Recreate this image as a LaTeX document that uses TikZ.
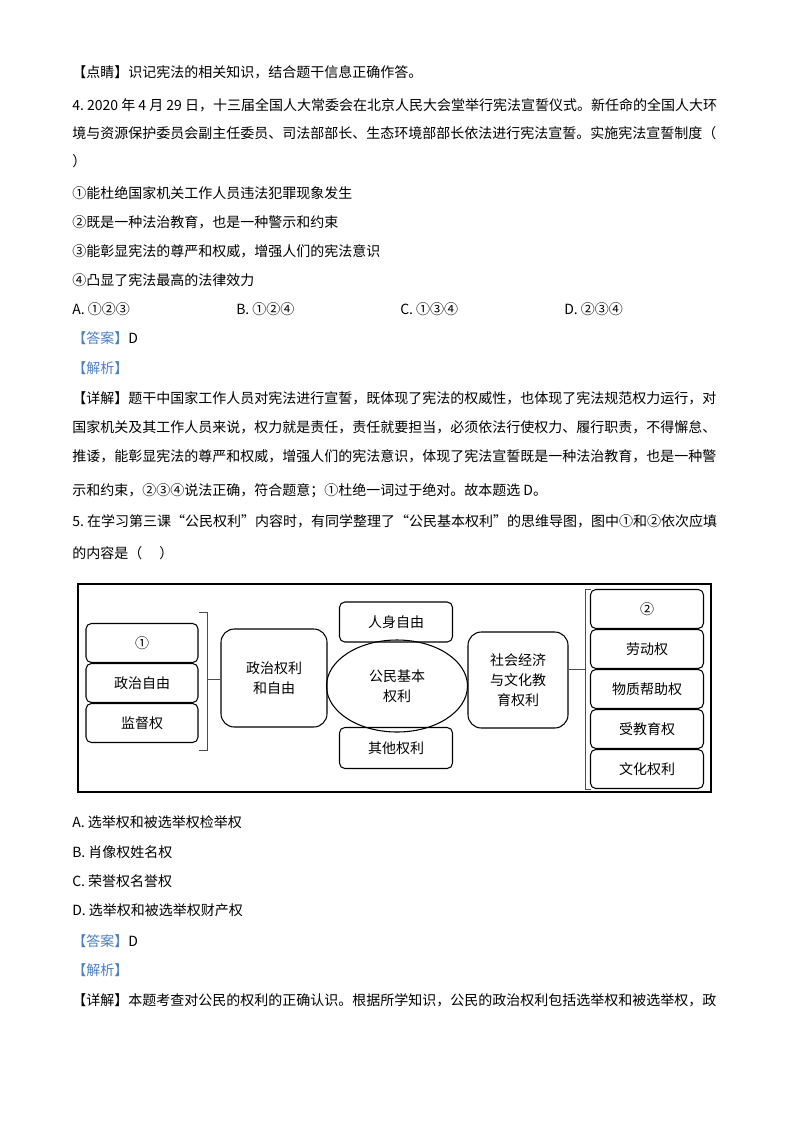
\documentclass[tikz,border=0pt]{standalone}
\usepackage{fontspec}
\usetikzlibrary{shapes.geometric}
\setmainfont{Noto Sans CJK SC}
\definecolor{ansblue}{HTML}{4A7FC1}
\begin{document}
\begin{tikzpicture}[x=0.75pt,y=-0.75pt,
  txt/.style={anchor=west,inner sep=0pt,font=\fontsize{10.5pt}{12pt}\selectfont},
  rbox/.style={draw,line width=0.8pt,rounded corners=4pt,font=\fontsize{10.5pt}{15pt}\selectfont,align=center,inner sep=0pt},
  lnk/.style={line width=0.6pt,draw=black!70}]
\useasboundingbox (0,0) rectangle (800,1132);
\fill[white] (0,0) rectangle (800,1132);
\node[txt] (l1) at (72,72) {【点睛】识记宪法的相关知识，结合题干信息正确作答。};
\node[txt] (l2) at (72,105) {4.\ 2020 年 4 月 29 日，十三届全国人大常委会在北京人民大会堂举行宪法宣誓仪式。新任命的全国人大环};
\node[txt] (l3) at (72,133) {境与资源保护委员会副主任委员、司法部部长、生态环境部部长依法进行宪法宣誓。实施宪法宣誓制度（};
\node[txt] (l4) at (72,161) {）};
\node[txt] (l5) at (72,193) {①能杜绝国家机关工作人员违法犯罪现象发生};
\node[txt] (l6) at (72,222) {②既是一种法治教育，也是一种警示和约束};
\node[txt] (l7) at (72,251) {③能彰显宪法的尊严和权威，增强人们的宪法意识};
\node[txt] (l8) at (72,280) {④凸显了宪法最高的法律效力};
\node[txt] (oA) at (72,309) {A. ①②③};
\node[txt] (oB) at (236,309) {B. ①②④};
\node[txt] (oC) at (400,309) {C. ①③④};
\node[txt] (oD) at (564,309) {D. ②③④};
\node[txt] (a1) at (72,338) {\textcolor{ansblue}{【答案】}D};
\node[txt] (a2) at (72,368) {\textcolor{ansblue}{【解析】}};
\node[txt] (d1) at (72,398) {【详解】题干中国家工作人员对宪法进行宣誓，既体现了宪法的权威性，也体现了宪法规范权力运行，对};
\node[txt] (d2) at (72,427) {国家机关及其工作人员来说，权力就是责任，责任就要担当，必须依法行使权力、履行职责，不得懈怠、};
\node[txt] (d3) at (72,456) {推诿，能彰显宪法的尊严和权威，增强人们的宪法意识，体现了宪法宣誓既是一种法治教育，也是一种警};
\node[txt] (d4) at (72,491) {示和约束，②③④说法正确，符合题意；①杜绝一词过于绝对。故本题选 D。};
\node[txt] (q5a) at (72,521) {5.\ 在学习第三课“公民权利”内容时，有同学整理了“公民基本权利”的思维导图，图中①和②依次应填};
\node[txt] (q5b) at (72,553) {的内容是（\quad\ ）};
% diagram
\draw[line width=0.8pt] (78,584) rectangle (711,792);
\node[rbox,minimum width=112*0.75pt,minimum height=39*0.75pt] (c1) at (142,643) {①};
\node[rbox,minimum width=112*0.75pt,minimum height=39*0.75pt] (c2) at (142,683) {政治自由};
\node[rbox,minimum width=112*0.75pt,minimum height=39*0.75pt] (c3) at (142,723) {监督权};
\draw[lnk] (199,612) -- (207,612) -- (207,750) -- (199,750);
\coordinate (lb) at (207,679);
\node[rbox,rounded corners=10pt,minimum width=106*0.75pt,minimum height=98*0.75pt] (pol) at (274,678) {政治权利\\和自由};
\draw[lnk] (lb) -- (pol.west |- lb);
\node[draw,line width=0.8pt,ellipse,minimum width=141*0.75pt,minimum height=92*0.75pt,inner sep=0pt,align=center,font=\fontsize{10.5pt}{15pt}\selectfont] (core) at (397,686) {公民基本\\权利};
\node[rbox,minimum width=113*0.75pt,minimum height=40*0.75pt] (per) at (396,622) {人身自由};
\node[rbox,minimum width=113*0.75pt,minimum height=41*0.75pt] (oth) at (396,748) {其他权利};
\node[rbox,rounded corners=10pt,minimum width=100*0.75pt,minimum height=96*0.75pt] (soc) at (518,680) {社会经济\\与文化教\\育权利};
\coordinate (rb) at (585,669);
\draw[lnk] (soc.east |- rb) -- (rb);
\draw[lnk] (591,589) -- (585,589) -- (585,789) -- (591,789);
\node[rbox,minimum width=113*0.75pt,minimum height=39*0.75pt] (r1) at (647,609) {②};
\node[rbox,minimum width=113*0.75pt,minimum height=39*0.75pt] (r2) at (647,649) {劳动权};
\node[rbox,minimum width=113*0.75pt,minimum height=39*0.75pt] (r3) at (647,689) {物质帮助权};
\node[rbox,minimum width=113*0.75pt,minimum height=39*0.75pt] (r4) at (647,729) {受教育权};
\node[rbox,minimum width=113*0.75pt,minimum height=39*0.75pt] (r5) at (647,769) {文化权利};
% after diagram
\node[txt] (pA) at (72,822) {A. 选举权和被选举权检举权};
\node[txt] (pB) at (72,852) {B. 肖像权姓名权};
\node[txt] (pC) at (72,881) {C. 荣誉权名誉权};
\node[txt] (pD) at (72,910) {D. 选举权和被选举权财产权};
\node[txt] (b1) at (72,941) {\textcolor{ansblue}{【答案】}D};
\node[txt] (b2) at (72,970) {\textcolor{ansblue}{【解析】}};
\node[txt] (b3) at (72,1000) {【详解】本题考查对公民的权利的正确认识。根据所学知识，公民的政治权利包括选举权和被选举权，政};
\end{tikzpicture}
\end{document}
